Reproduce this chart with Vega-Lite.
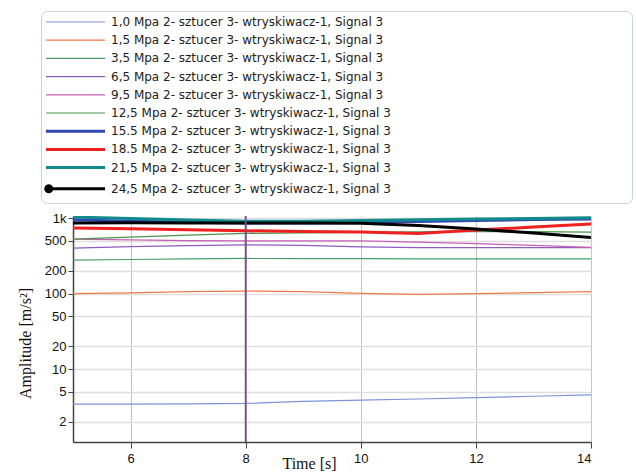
{
  "$schema": "https://vega.github.io/schema/vega-lite/v6.json",
  "width": 518,
  "height": 226,
  "autosize": {"type": "none"},
  "padding": {"left": 73, "top": 216, "right": 45, "bottom": 34},
  "background": "white",
  "config": {
    "view": {"stroke": null},
    "font": "Liberation Sans",
    "legend": {
      "orient": "none",
      "legendX": -32,
      "legendY": -205,
      "symbolSize": 4,
      "symbolOffset": 0,
      "labelOffset": 53,
      "labelFont": "DejaVu Sans",
      "labelFontSize": 12,
      "labelColor": "#222222",
      "labelLimit": 0,
      "strokeColor": "#c8d0dc",
      "fillColor": "white",
      "cornerRadius": 6,
      "padding": 5,
      "rowPadding": 6.2,
      "titleOrient": "right",
      "titlePadding": 236
    }
  },
  "datasets": {
    "series": [
      {"t": 5, "v": 3.45, "s": "1,0 Mpa 2- sztucer 3- wtryskiwacz-1, Signal 3"},
      {"t": 6, "v": 3.45, "s": "1,0 Mpa 2- sztucer 3- wtryskiwacz-1, Signal 3"},
      {"t": 7, "v": 3.48, "s": "1,0 Mpa 2- sztucer 3- wtryskiwacz-1, Signal 3"},
      {"t": 8, "v": 3.52, "s": "1,0 Mpa 2- sztucer 3- wtryskiwacz-1, Signal 3"},
      {"t": 9, "v": 3.75, "s": "1,0 Mpa 2- sztucer 3- wtryskiwacz-1, Signal 3"},
      {"t": 10, "v": 3.88, "s": "1,0 Mpa 2- sztucer 3- wtryskiwacz-1, Signal 3"},
      {"t": 11, "v": 4.03, "s": "1,0 Mpa 2- sztucer 3- wtryskiwacz-1, Signal 3"},
      {"t": 12, "v": 4.2, "s": "1,0 Mpa 2- sztucer 3- wtryskiwacz-1, Signal 3"},
      {"t": 13, "v": 4.38, "s": "1,0 Mpa 2- sztucer 3- wtryskiwacz-1, Signal 3"},
      {"t": 14, "v": 4.57, "s": "1,0 Mpa 2- sztucer 3- wtryskiwacz-1, Signal 3"},
      {"t": 5, "v": 100, "s": "1,5 Mpa 2- sztucer 3- wtryskiwacz-1, Signal 3"},
      {"t": 6, "v": 102, "s": "1,5 Mpa 2- sztucer 3- wtryskiwacz-1, Signal 3"},
      {"t": 7, "v": 106, "s": "1,5 Mpa 2- sztucer 3- wtryskiwacz-1, Signal 3"},
      {"t": 8, "v": 108, "s": "1,5 Mpa 2- sztucer 3- wtryskiwacz-1, Signal 3"},
      {"t": 9, "v": 106, "s": "1,5 Mpa 2- sztucer 3- wtryskiwacz-1, Signal 3"},
      {"t": 10, "v": 101, "s": "1,5 Mpa 2- sztucer 3- wtryskiwacz-1, Signal 3"},
      {"t": 11, "v": 98, "s": "1,5 Mpa 2- sztucer 3- wtryskiwacz-1, Signal 3"},
      {"t": 12, "v": 100, "s": "1,5 Mpa 2- sztucer 3- wtryskiwacz-1, Signal 3"},
      {"t": 13, "v": 103, "s": "1,5 Mpa 2- sztucer 3- wtryskiwacz-1, Signal 3"},
      {"t": 14, "v": 106, "s": "1,5 Mpa 2- sztucer 3- wtryskiwacz-1, Signal 3"},
      {"t": 5, "v": 278, "s": "3,5 Mpa 2- sztucer 3- wtryskiwacz-1, Signal 3"},
      {"t": 6, "v": 283, "s": "3,5 Mpa 2- sztucer 3- wtryskiwacz-1, Signal 3"},
      {"t": 7, "v": 288, "s": "3,5 Mpa 2- sztucer 3- wtryskiwacz-1, Signal 3"},
      {"t": 8, "v": 292, "s": "3,5 Mpa 2- sztucer 3- wtryskiwacz-1, Signal 3"},
      {"t": 9, "v": 290, "s": "3,5 Mpa 2- sztucer 3- wtryskiwacz-1, Signal 3"},
      {"t": 10, "v": 290, "s": "3,5 Mpa 2- sztucer 3- wtryskiwacz-1, Signal 3"},
      {"t": 11, "v": 289, "s": "3,5 Mpa 2- sztucer 3- wtryskiwacz-1, Signal 3"},
      {"t": 12, "v": 288, "s": "3,5 Mpa 2- sztucer 3- wtryskiwacz-1, Signal 3"},
      {"t": 13, "v": 288, "s": "3,5 Mpa 2- sztucer 3- wtryskiwacz-1, Signal 3"},
      {"t": 14, "v": 288, "s": "3,5 Mpa 2- sztucer 3- wtryskiwacz-1, Signal 3"},
      {"t": 5, "v": 401, "s": "6,5 Mpa 2- sztucer 3- wtryskiwacz-1, Signal 3"},
      {"t": 6, "v": 420, "s": "6,5 Mpa 2- sztucer 3- wtryskiwacz-1, Signal 3"},
      {"t": 7, "v": 432, "s": "6,5 Mpa 2- sztucer 3- wtryskiwacz-1, Signal 3"},
      {"t": 8, "v": 443, "s": "6,5 Mpa 2- sztucer 3- wtryskiwacz-1, Signal 3"},
      {"t": 9, "v": 434, "s": "6,5 Mpa 2- sztucer 3- wtryskiwacz-1, Signal 3"},
      {"t": 10, "v": 416, "s": "6,5 Mpa 2- sztucer 3- wtryskiwacz-1, Signal 3"},
      {"t": 11, "v": 406, "s": "6,5 Mpa 2- sztucer 3- wtryskiwacz-1, Signal 3"},
      {"t": 12, "v": 406, "s": "6,5 Mpa 2- sztucer 3- wtryskiwacz-1, Signal 3"},
      {"t": 13, "v": 405, "s": "6,5 Mpa 2- sztucer 3- wtryskiwacz-1, Signal 3"},
      {"t": 14, "v": 406, "s": "6,5 Mpa 2- sztucer 3- wtryskiwacz-1, Signal 3"},
      {"t": 5, "v": 527, "s": "9,5 Mpa 2- sztucer 3- wtryskiwacz-1, Signal 3"},
      {"t": 6, "v": 515, "s": "9,5 Mpa 2- sztucer 3- wtryskiwacz-1, Signal 3"},
      {"t": 7, "v": 503, "s": "9,5 Mpa 2- sztucer 3- wtryskiwacz-1, Signal 3"},
      {"t": 8, "v": 500, "s": "9,5 Mpa 2- sztucer 3- wtryskiwacz-1, Signal 3"},
      {"t": 9, "v": 500, "s": "9,5 Mpa 2- sztucer 3- wtryskiwacz-1, Signal 3"},
      {"t": 10, "v": 498, "s": "9,5 Mpa 2- sztucer 3- wtryskiwacz-1, Signal 3"},
      {"t": 11, "v": 481, "s": "9,5 Mpa 2- sztucer 3- wtryskiwacz-1, Signal 3"},
      {"t": 12, "v": 460, "s": "9,5 Mpa 2- sztucer 3- wtryskiwacz-1, Signal 3"},
      {"t": 13, "v": 434, "s": "9,5 Mpa 2- sztucer 3- wtryskiwacz-1, Signal 3"},
      {"t": 14, "v": 410, "s": "9,5 Mpa 2- sztucer 3- wtryskiwacz-1, Signal 3"},
      {"t": 5, "v": 527, "s": "12,5 Mpa 2- sztucer 3- wtryskiwacz-1, Signal 3"},
      {"t": 6, "v": 560, "s": "12,5 Mpa 2- sztucer 3- wtryskiwacz-1, Signal 3"},
      {"t": 7, "v": 595, "s": "12,5 Mpa 2- sztucer 3- wtryskiwacz-1, Signal 3"},
      {"t": 8, "v": 626, "s": "12,5 Mpa 2- sztucer 3- wtryskiwacz-1, Signal 3"},
      {"t": 9, "v": 635, "s": "12,5 Mpa 2- sztucer 3- wtryskiwacz-1, Signal 3"},
      {"t": 10, "v": 646, "s": "12,5 Mpa 2- sztucer 3- wtryskiwacz-1, Signal 3"},
      {"t": 11, "v": 655, "s": "12,5 Mpa 2- sztucer 3- wtryskiwacz-1, Signal 3"},
      {"t": 12, "v": 663, "s": "12,5 Mpa 2- sztucer 3- wtryskiwacz-1, Signal 3"},
      {"t": 13, "v": 660, "s": "12,5 Mpa 2- sztucer 3- wtryskiwacz-1, Signal 3"},
      {"t": 14, "v": 650, "s": "12,5 Mpa 2- sztucer 3- wtryskiwacz-1, Signal 3"},
      {"t": 5, "v": 950, "s": "15.5 Mpa 2- sztucer 3- wtryskiwacz-1, Signal 3"},
      {"t": 6, "v": 910, "s": "15.5 Mpa 2- sztucer 3- wtryskiwacz-1, Signal 3"},
      {"t": 7, "v": 880, "s": "15.5 Mpa 2- sztucer 3- wtryskiwacz-1, Signal 3"},
      {"t": 8, "v": 862, "s": "15.5 Mpa 2- sztucer 3- wtryskiwacz-1, Signal 3"},
      {"t": 9, "v": 862, "s": "15.5 Mpa 2- sztucer 3- wtryskiwacz-1, Signal 3"},
      {"t": 10, "v": 875, "s": "15.5 Mpa 2- sztucer 3- wtryskiwacz-1, Signal 3"},
      {"t": 11, "v": 900, "s": "15.5 Mpa 2- sztucer 3- wtryskiwacz-1, Signal 3"},
      {"t": 12, "v": 930, "s": "15.5 Mpa 2- sztucer 3- wtryskiwacz-1, Signal 3"},
      {"t": 13, "v": 955, "s": "15.5 Mpa 2- sztucer 3- wtryskiwacz-1, Signal 3"},
      {"t": 14, "v": 975, "s": "15.5 Mpa 2- sztucer 3- wtryskiwacz-1, Signal 3"},
      {"t": 5, "v": 737, "s": "18.5 Mpa 2- sztucer 3- wtryskiwacz-1, Signal 3"},
      {"t": 6, "v": 722, "s": "18.5 Mpa 2- sztucer 3- wtryskiwacz-1, Signal 3"},
      {"t": 7, "v": 700, "s": "18.5 Mpa 2- sztucer 3- wtryskiwacz-1, Signal 3"},
      {"t": 8, "v": 679, "s": "18.5 Mpa 2- sztucer 3- wtryskiwacz-1, Signal 3"},
      {"t": 9, "v": 665, "s": "18.5 Mpa 2- sztucer 3- wtryskiwacz-1, Signal 3"},
      {"t": 10, "v": 652, "s": "18.5 Mpa 2- sztucer 3- wtryskiwacz-1, Signal 3"},
      {"t": 11, "v": 626, "s": "18.5 Mpa 2- sztucer 3- wtryskiwacz-1, Signal 3"},
      {"t": 12, "v": 694, "s": "18.5 Mpa 2- sztucer 3- wtryskiwacz-1, Signal 3"},
      {"t": 13, "v": 760, "s": "18.5 Mpa 2- sztucer 3- wtryskiwacz-1, Signal 3"},
      {"t": 14, "v": 833, "s": "18.5 Mpa 2- sztucer 3- wtryskiwacz-1, Signal 3"},
      {"t": 5, "v": 1030, "s": "21,5 Mpa 2- sztucer 3- wtryskiwacz-1, Signal 3"},
      {"t": 6, "v": 990, "s": "21,5 Mpa 2- sztucer 3- wtryskiwacz-1, Signal 3"},
      {"t": 7, "v": 945, "s": "21,5 Mpa 2- sztucer 3- wtryskiwacz-1, Signal 3"},
      {"t": 8, "v": 905, "s": "21,5 Mpa 2- sztucer 3- wtryskiwacz-1, Signal 3"},
      {"t": 9, "v": 910, "s": "21,5 Mpa 2- sztucer 3- wtryskiwacz-1, Signal 3"},
      {"t": 10, "v": 930, "s": "21,5 Mpa 2- sztucer 3- wtryskiwacz-1, Signal 3"},
      {"t": 11, "v": 950, "s": "21,5 Mpa 2- sztucer 3- wtryskiwacz-1, Signal 3"},
      {"t": 12, "v": 970, "s": "21,5 Mpa 2- sztucer 3- wtryskiwacz-1, Signal 3"},
      {"t": 13, "v": 990, "s": "21,5 Mpa 2- sztucer 3- wtryskiwacz-1, Signal 3"},
      {"t": 14, "v": 1010, "s": "21,5 Mpa 2- sztucer 3- wtryskiwacz-1, Signal 3"},
      {"t": 5, "v": 860, "s": "24,5 Mpa 2- sztucer 3- wtryskiwacz-1, Signal 3"},
      {"t": 6, "v": 865, "s": "24,5 Mpa 2- sztucer 3- wtryskiwacz-1, Signal 3"},
      {"t": 7, "v": 860, "s": "24,5 Mpa 2- sztucer 3- wtryskiwacz-1, Signal 3"},
      {"t": 8, "v": 860, "s": "24,5 Mpa 2- sztucer 3- wtryskiwacz-1, Signal 3"},
      {"t": 9, "v": 858, "s": "24,5 Mpa 2- sztucer 3- wtryskiwacz-1, Signal 3"},
      {"t": 10, "v": 855, "s": "24,5 Mpa 2- sztucer 3- wtryskiwacz-1, Signal 3"},
      {"t": 11, "v": 798, "s": "24,5 Mpa 2- sztucer 3- wtryskiwacz-1, Signal 3"},
      {"t": 12, "v": 715, "s": "24,5 Mpa 2- sztucer 3- wtryskiwacz-1, Signal 3"},
      {"t": 13, "v": 633, "s": "24,5 Mpa 2- sztucer 3- wtryskiwacz-1, Signal 3"},
      {"t": 14, "v": 555, "s": "24,5 Mpa 2- sztucer 3- wtryskiwacz-1, Signal 3"}
    ],
    "cursor": [{"t": 8}]
  },
  "layer": [
    {
      "data": {"name": "series"},
      "mark": {"type": "line", "clip": true},
      "encoding": {
        "x": {
          "field": "t", "type": "quantitative",
          "scale": {"domain": [5, 14], "nice": false, "zero": false},
          "axis": {
            "values": [6, 8, 10, 12, 14],
            "format": "d",
            "title": "Time [s]",
            "titleFont": "Liberation Serif",
            "titleFontSize": 16,
            "titleFontWeight": "normal",
            "titleColor": "#111111",
            "titleX": 236,
            "titleY": 21,
            "titleBaseline": "middle",
            "labelFont": "Liberation Sans",
            "labelFontSize": 13,
            "labelColor": "#111111",
            "labelPadding": 4,
            "grid": true,
            "gridColor": "#c4c4c4",
            "gridWidth": 1,
            "domainColor": "#444444",
            "domainWidth": 1.5,
            "tickColor": "#444444",
            "tickSize": 6
          }
        },
        "y": {
          "field": "v", "type": "quantitative",
          "scale": {"type": "log", "domain": [1.086, 1065], "nice": false},
          "axis": {
            "values": [2, 5, 10, 20, 50, 100, 200, 500, 1000],
            "labelExpr": "datum.value >= 1000 ? '1k' : format(datum.value, 'd')",
            "title": "Amplitude [m/s²]",
            "titleFont": "Liberation Serif",
            "titleFontSize": 16,
            "titleFontWeight": "normal",
            "titleColor": "#111111",
            "titleX": -48,
            "titleY": 127,
            "titleAngle": 270,
            "titleBaseline": "middle",
            "titleAlign": "center",
            "labelFont": "Liberation Sans",
            "labelFontSize": 13,
            "labelColor": "#111111",
            "labelPadding": 2,
            "grid": true,
            "gridColor": "#dedede",
            "gridWidth": 1.5,
            "domainColor": "#444444",
            "domainWidth": 1.5,
            "tickColor": "#444444",
            "tickSize": 5
          }
        },
        "color": {
          "field": "s", "type": "nominal",
          "scale": {
            "domain": [
              "1,0 Mpa 2- sztucer 3- wtryskiwacz-1, Signal 3",
              "1,5 Mpa 2- sztucer 3- wtryskiwacz-1, Signal 3",
              "3,5 Mpa 2- sztucer 3- wtryskiwacz-1, Signal 3",
              "6,5 Mpa 2- sztucer 3- wtryskiwacz-1, Signal 3",
              "9,5 Mpa 2- sztucer 3- wtryskiwacz-1, Signal 3",
              "12,5 Mpa 2- sztucer 3- wtryskiwacz-1, Signal 3",
              "15.5 Mpa 2- sztucer 3- wtryskiwacz-1, Signal 3",
              "18.5 Mpa 2- sztucer 3- wtryskiwacz-1, Signal 3",
              "21,5 Mpa 2- sztucer 3- wtryskiwacz-1, Signal 3",
              "24,5 Mpa 2- sztucer 3- wtryskiwacz-1, Signal 3"
            ],
            "range": ["#7d93d8", "#f07a4a", "#4a9e6a", "#8c5cc0", "#c85fb5", "#4a944a", "#3048b0", "#ee2020", "#108a8a", "#000000"]
          },
          "legend": {
            "title": " ",
            "symbolType": {"expr": "indexof(datum.value, '24,5') == 0 ? 'M-6,0H53M-0.25,0L-0.65,1.5L-1.75,2.6L-3.25,3L-4.75,2.6L-5.85,1.5L-6.25,0L-5.85,-1.5L-4.75,-2.6L-3.25,-3L-1.75,-2.6L-0.65,-1.5Z' : 'M-6,0H53'"},
            "symbolFillColor": {"expr": "indexof(datum.value, '24,5') == 0 ? '#000000' : 'transparent'"},
            "symbolStrokeWidth": {"expr": "(indexof(datum.value, '15.5') == 0 || indexof(datum.value, '18.5') == 0 || indexof(datum.value, '21,5') == 0 || indexof(datum.value, '24,5') == 0) ? 3 : 1.5"}
          }
        },
        "strokeWidth": {
          "field": "s", "type": "nominal",
          "scale": {
            "type": "ordinal",
            "domain": [
              "1,0 Mpa 2- sztucer 3- wtryskiwacz-1, Signal 3",
              "1,5 Mpa 2- sztucer 3- wtryskiwacz-1, Signal 3",
              "3,5 Mpa 2- sztucer 3- wtryskiwacz-1, Signal 3",
              "6,5 Mpa 2- sztucer 3- wtryskiwacz-1, Signal 3",
              "9,5 Mpa 2- sztucer 3- wtryskiwacz-1, Signal 3",
              "12,5 Mpa 2- sztucer 3- wtryskiwacz-1, Signal 3",
              "15.5 Mpa 2- sztucer 3- wtryskiwacz-1, Signal 3",
              "18.5 Mpa 2- sztucer 3- wtryskiwacz-1, Signal 3",
              "21,5 Mpa 2- sztucer 3- wtryskiwacz-1, Signal 3",
              "24,5 Mpa 2- sztucer 3- wtryskiwacz-1, Signal 3"
            ],
            "range": [1.2, 1.2, 1.2, 1.2, 1.2, 1.2, 3, 3, 3, 3]
          },
          "legend": null
        }
      }
    },
    {
      "data": {"name": "cursor"},
      "mark": {"type": "rule", "color": "#7a4a8a", "strokeWidth": 1.8},
      "encoding": {
        "x": {"field": "t", "type": "quantitative"}
      }
    }
  ]
}
